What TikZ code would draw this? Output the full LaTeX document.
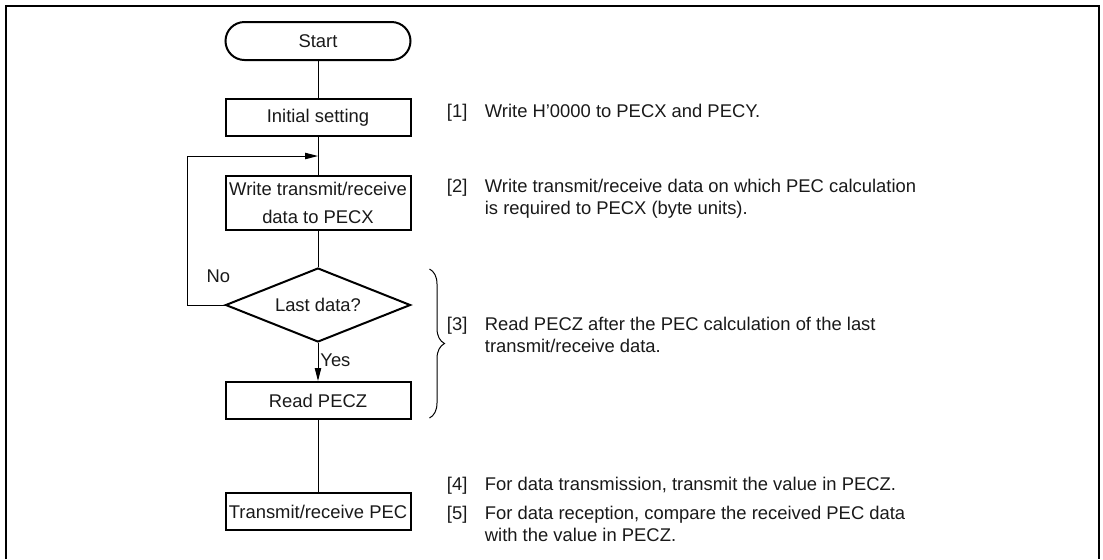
\documentclass[tikz,border=0pt]{standalone}
\usepackage{fontspec}
\setmainfont{Liberation Sans}
\usetikzlibrary{arrows.meta,positioning,shapes.geometric,calc}
\usetikzlibrary{decorations.pathreplacing}
\usepackage{xcolor}

\newcommand{\notelist}[1]{\begin{tabular}{@{}p{19pt}@{}l@{}}#1\end{tabular}}

\begin{document}
\begin{tikzpicture}[
        node distance=18.5pt,
        font=\fontsize{9.2}{11}\selectfont,
        proc/.style={draw, rectangle, line width=1pt, minimum width=92.5pt, minimum height=18.5pt, inner sep=1pt, align=center, text=black!90},
        term/.style={proc, rounded corners=9.5pt, minimum height=19pt},
        test/.style={draw, diamond, aspect=2.5, line width=1pt, minimum width=92.5pt, minimum height=37pt, inner sep=0pt, text=black!90},
        desc/.style={inner sep=0pt, anchor=west, text=black!90},
        lbl/.style={inner sep=0pt, text=black!90},
        flow/.style={line width=0.5pt},
        tip/.style={flow, -{Triangle[length=6.5pt, width=3.2pt]}}
    ]
        \useasboundingbox (0,0) rectangle (551.5pt,-279.5pt);
        \draw[line width=1.15pt] (3pt,-279.5pt) -- (3pt,-3pt) -- (549.5pt,-3pt) -- (549.5pt,-279.5pt);

        \node[term] (start) at (159pt,-20.5pt) {Start};
        \node[proc, below=18.5pt of start] (init) {Initial setting};
        \node[proc, below=19pt of init, minimum height=27pt] (write) {Write transmit/receive\\[3pt]data to PECX};
        \node[test, below=18pt of write] (dia) {Last data?};
        \node[proc, below=19pt of dia] (read) {Read PECZ};
        \node[proc, below=36pt of read] (trans) {Transmit/receive PEC};

        \node[lbl, anchor=south east] (no) at ($(dia.west)+(3pt,11pt)$) {No};
        \node[lbl, anchor=west] (yes) at ($(dia.south)+(1pt,-8.5pt)$) {Yes};

        \draw[flow] (start) -- (init);
        \draw[flow] (init) -- (write);
        \draw[flow] (write) -- (dia);
        \draw[tip] (dia.south) -- (read.north);
        \draw[flow] (read) -- (trans);
        \coordinate (loop) at ($(init.south)!0.5!(write.north)$);
        \draw[tip] (dia.west) -- ++(-18.5pt,0) |- (loop);

        % brace over test and read
        \coordinate (btop) at ($(dia.north -| read.east)+(9pt,-1pt)$);
        \coordinate (bbot) at ($(read.south east)+(9pt,1pt)$);
        \coordinate (bmid) at ($(btop)!0.5!(bbot)$);
        \draw[flow, decorate, decoration={brace, amplitude=7.5pt}] (btop) -- (bbot);

        \node[desc, right=17.5pt of init, yshift=2pt] (d1) {\notelist{[1] & Write H'0000 to PECX and PECY.}};
        \node[desc, right=17.5pt of write, yshift=2pt] (d2) {\notelist{[2] & Write transmit/receive data on which PEC calculation\\ & is required to PECX (byte units).}};
        \node[desc, right=8.5pt of bmid, yshift=3pt] (d3) {\notelist{[3] & Read PECZ after the PEC calculation of the last\\ & transmit/receive data.}};
        \node[desc, right=17.5pt of trans, yshift=12.5pt] (d4) {\notelist{[4] & For data transmission, transmit the value in PECZ.}};
        \node[desc, below=3pt of d4.south west, anchor=north west] (d5) {\notelist{[5] & For data reception, compare the received PEC data\\ & with the value in PECZ.}};
    \end{tikzpicture}
\end{document}
